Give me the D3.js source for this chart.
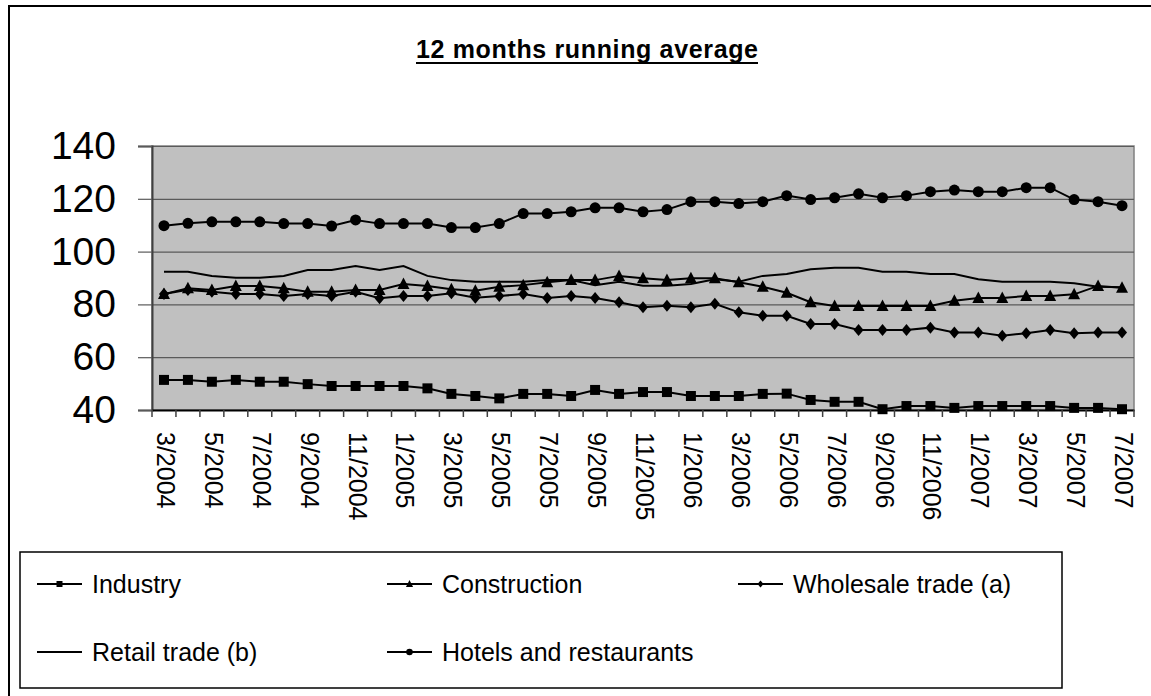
<!DOCTYPE html>
<html>
<head>
<meta charset="utf-8">
<script src="https://cdn.jsdelivr.net/npm/d3@7"></script>
<style>
  body { margin: 0; background: #fff; }
  svg { display: block; font-family: "Liberation Sans", Arial, sans-serif; }
</style>
</head>
<body>
<div id="chart"></div>
<script>
// months 3/2004 .. 7/2007
const months = [];
for (let i = 0; i < 41; i++) {
    const m = (2 + i) % 12 + 1;
    const yr = 2004 + Math.floor((2 + i) / 12);
    months.push(m + "/" + yr);
}

const industry = [51.4, 51.4, 50.7, 51.4, 50.7, 50.7, 49.8, 49.1, 49.1, 49.1, 49.1, 48.2, 46.1, 45.3, 44.4, 46.1, 46.1, 45.3, 47.6, 46.1, 46.8, 46.8, 45.3, 45.3, 45.3, 46.1, 46.2, 43.8, 43.1, 43.1, 40.3, 41.5, 41.5, 40.8, 41.5, 41.5, 41.5, 41.5, 40.8, 40.8, 40.3];
const construction = [83.9, 86.1, 85.5, 87.0, 87.0, 86.1, 84.8, 84.8, 85.5, 85.5, 87.7, 87.0, 85.7, 85.2, 86.7, 87.3, 88.4, 89.2, 89.2, 90.8, 89.9, 89.2, 89.9, 89.9, 88.4, 86.7, 84.4, 80.8, 79.4, 79.4, 79.4, 79.4, 79.4, 81.4, 82.4, 82.4, 83.2, 83.2, 83.8, 87.0, 86.3];
const wholesale = [83.9, 85.5, 84.8, 83.9, 83.9, 83.2, 83.9, 83.2, 84.8, 82.3, 83.2, 83.2, 84.2, 82.5, 83.2, 83.9, 82.4, 83.2, 82.4, 80.8, 78.9, 79.5, 78.9, 80.2, 77.0, 75.7, 75.7, 72.6, 72.6, 70.3, 70.3, 70.3, 71.2, 69.4, 69.4, 68.1, 69.1, 70.3, 69.1, 69.4, 69.4];
const retail = [92.4, 92.4, 90.8, 90.1, 90.1, 90.8, 93.0, 93.0, 94.5, 93.0, 94.5, 90.8, 89.2, 88.6, 88.6, 88.6, 89.2, 89.2, 87.3, 88.6, 87.1, 87.1, 87.7, 89.5, 88.6, 90.8, 91.5, 93.3, 93.9, 93.9, 92.4, 92.4, 91.5, 91.5, 89.5, 88.6, 88.6, 88.6, 88.0, 86.7, 86.5];
const hotels = [109.8, 110.7, 111.3, 111.3, 111.3, 110.6, 110.6, 109.7, 112.0, 110.6, 110.6, 110.6, 109.1, 109.1, 110.6, 114.4, 114.4, 115.1, 116.6, 116.6, 115.1, 115.9, 118.9, 118.9, 118.2, 118.9, 121.2, 119.7, 120.4, 121.9, 120.4, 121.2, 122.7, 123.3, 122.7, 122.7, 124.2, 124.2, 119.7, 118.9, 117.4];

const yTicks = [40, 60, 80, 100, 120, 140];

const series = [
    {name: "Industry", values: industry, marker: "square"},
    {name: "Construction", values: construction, marker: "triangle"},
    {name: "Wholesale trade (a)", values: wholesale, marker: "diamond"},
    {name: "Retail trade (b)", values: retail, marker: null},
    {name: "Hotels and restaurants", values: hotels, marker: "circle"}
];

const width = 1151, height = 696;
const plotLeft = 152, plotRight = 1134, plotTop = 146, plotBottom = 410;

const svg = d3.select("#chart").append("svg")
    .attr("width", width)
    .attr("height", height);

// outer frame
svg.append("rect")
    .attr("x", 9).attr("y", 6)
    .attr("width", 1160).attr("height", 700)
    .attr("fill", "none")
    .attr("stroke", "#000")
    .attr("stroke-width", 2);

// title
svg.append("text")
    .attr("x", 587).attr("y", 58)
    .attr("text-anchor", "middle")
    .attr("font-size", 25)
    .attr("font-weight", "bold")
    .attr("textLength", 342)
    .attr("lengthAdjust", "spacing")
    .text("12 months running average");
svg.append("line")
    .attr("x1", 416).attr("x2", 758)
    .attr("y1", 63).attr("y2", 63)
    .attr("stroke", "#000").attr("stroke-width", 2);

const x = d3.scaleBand().domain(months).range([plotLeft, plotRight]).padding(0);
const y = d3.scaleLinear().domain([40, 140]).range([plotBottom, plotTop]);
const cx = d => x(d) + x.bandwidth() / 2;

// plot background
svg.append("rect")
    .attr("x", plotLeft).attr("y", plotTop)
    .attr("width", plotRight - plotLeft).attr("height", plotBottom - plotTop)
    .attr("fill", "#c0c0c0")
    .attr("stroke", "#808080")
    .attr("stroke-width", 1.5);

// gridlines
svg.append("g")
    .attr("transform", `translate(${plotLeft},0)`)
    .call(d3.axisLeft(y).tickValues(yTicks).tickSize(-(plotRight - plotLeft)).tickFormat(""))
    .call(g => g.select(".domain").remove())
    .call(g => g.selectAll("line").attr("stroke", "#5a5a5a").attr("stroke-width", 1.2));

// y axis
svg.append("g")
    .attr("transform", `translate(${plotLeft},0)`)
    .call(d3.axisLeft(y).tickValues(yTicks).tickSize(14).tickPadding(22))
    .call(g => g.select(".domain").attr("stroke", "#404040").attr("stroke-width", 2))
    .call(g => g.selectAll("line").attr("stroke", "#5a5a5a").attr("stroke-width", 1.2))
    .call(g => g.selectAll("text")
        .attr("font-size", 39)
        .attr("font-family", "Liberation Sans, Arial, sans-serif")
        .attr("fill", "#000"));

// x axis
svg.append("g")
    .attr("transform", `translate(0,${plotBottom})`)
    .call(d3.axisBottom(x).tickSize(0).tickFormat((d, i) => i % 2 === 0 ? d : ""))
    .call(g => g.select(".domain").attr("stroke", "#000").attr("stroke-width", 2))
    .call(g => g.selectAll("text")
        .attr("font-size", 25)
        .attr("font-family", "Liberation Sans, Arial, sans-serif")
        .attr("fill", "#000")
        .attr("text-anchor", "start")
        .attr("dy", null)
        .attr("dominant-baseline", "central")
        .attr("y", 0)
        .attr("transform", "translate(2,22) rotate(90)"));

// boundary ticks
const bounds = months.map(d => x(d)).concat([plotRight]);
svg.append("g").selectAll("line")
    .data(bounds)
    .join("line")
    .attr("x1", d => d).attr("x2", d => d)
    .attr("y1", plotBottom).attr("y2", plotBottom + 7)
    .attr("stroke", "#404040")
    .attr("stroke-width", 1.5);

// marker shapes, k = scale
function markerPath(type, k) {
    if (type === "square") return `M${-5 * k},${-5 * k}h${10 * k}v${10 * k}h${-10 * k}Z`;
    if (type === "triangle") return `M0,${-6.5 * k}L${6 * k},${5 * k}L${-6 * k},${5 * k}Z`;
    if (type === "diamond") return `M0,${-6 * k}L${5 * k},0L0,${6 * k}L${-5 * k},0Z`;
    return null;
}

function drawMarker(sel, type, k) {
    if (!type) return;
    if (type === "circle") {
        sel.append("circle").attr("r", 5.5 * k).attr("fill", "#000");
    } else {
        sel.append("path").attr("d", markerPath(type, k)).attr("fill", "#000");
    }
}

const line = d3.line().x((v, i) => cx(months[i])).y(v => y(v));

series.forEach(s => {
    const g = svg.append("g");
    g.append("path")
        .datum(s.values)
        .attr("d", line)
        .attr("fill", "none")
        .attr("stroke", "#000")
        .attr("stroke-width", 2);
    if (s.marker) {
        g.selectAll("g")
            .data(s.values)
            .join("g")
            .attr("transform", (v, i) => `translate(${cx(months[i])},${y(v)})`)
            .each(function() { drawMarker(d3.select(this), s.marker, 1); });
    }
});

// legend
svg.append("rect")
    .attr("x", 20).attr("y", 552)
    .attr("width", 1042).attr("height", 136)
    .attr("fill", "#fff")
    .attr("stroke", "#000")
    .attr("stroke-width", 1.5);

const legendPos = [[37, 584], [387, 584], [738, 584], [37, 652], [387, 652]];
series.forEach((s, i) => {
    const [lx, ly] = legendPos[i];
    const g = svg.append("g").attr("transform", `translate(${lx},${ly})`);
    g.append("line")
        .attr("x1", 0).attr("x2", 45)
        .attr("stroke", "#000").attr("stroke-width", 2);
    const m = g.append("g").attr("transform", "translate(22.5,0)");
    drawMarker(m, s.marker, 0.6);
    g.append("text")
        .attr("x", 55)
        .attr("dominant-baseline", "central")
        .attr("font-size", 25)
        .attr("fill", "#000")
        .text(s.name);
});
</script>
</body>
</html>
